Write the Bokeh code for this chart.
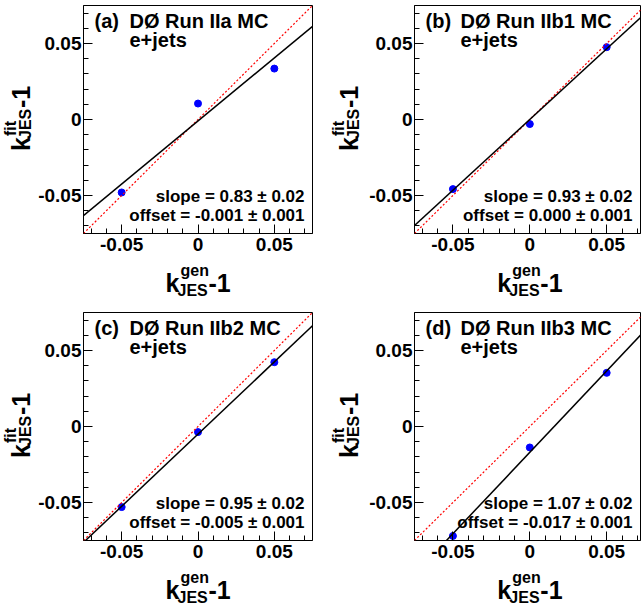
import math
from bokeh.plotting import figure
from bokeh.models import Label, Slope, FixedTicker, CustomJSTickFormatter, Range1d
from bokeh.layouts import column, row
from bokeh.embed import file_html
from bokeh.resources import INLINE

# ---------------- data ----------------
k_gen = [-0.05, 0.0, 0.05]
fit_a = [-0.0480, 0.0105, 0.0335]
fit_b = [-0.0458, -0.0030, 0.0476]
fit_c = [-0.0530, -0.0037, 0.0423]
fit_d = [-0.0720, -0.0138, 0.0353]
tags = ["(a)", "(b)", "(c)", "(d)"]
runs = ["DØ Run IIa MC", "DØ Run IIb1 MC", "DØ Run IIb2 MC", "DØ Run IIb3 MC"]
channel = "e+jets"
slopes = [0.83, 0.93, 0.95, 1.07]
slope_err = [0.02, 0.02, 0.02, 0.02]
offsets = [-0.001, 0.000, -0.005, -0.017]
offset_err = [0.001, 0.001, 0.001, 0.001]
major_ticks = [-0.05, 0.0, 0.05]
minor_ticks = [-0.07, -0.06, -0.04, -0.03, -0.02, -0.01,
               0.01, 0.02, 0.03, 0.04, 0.06, 0.07]
axis_lo, axis_hi = -0.075, 0.075
axis_hi_right = 0.072

FONT = "Liberation Sans"
BL, FH, BB = 46, 228, 27
SHIFT = 0.33   # empirical correction of the rendered baseline (in em)


def lab(p, text, x, y, xo, yo, size, align="left", angle=0.0):
    if angle == 0.0:
        yo = yo + SHIFT * size
    else:
        xo = xo - SHIFT * size
    p.add_layout(Label(x=x, y=y, x_offset=xo, y_offset=yo, text=text,
                       text_font=FONT, text_font_size=f"{size}px",
                       text_font_style="bold", text_align=align,
                       text_baseline="alphabetic", angle=angle,
                       text_color="black"))


def blank(width, height, x_range, y_range, l=0, r=0, t=0, b=0):
    f = figure(width=width, height=height, x_range=x_range, y_range=y_range,
               output_backend="svg", toolbar_location=None,
               x_axis_location=None, y_axis_location=None,
               min_border_left=l, min_border_right=r,
               min_border_top=t, min_border_bottom=b)
    f.grid.visible = False
    f.outline_line_color = None
    f.background_fill_color = "white"
    f.border_fill_color = "white"
    return f


def cell(i, fit, is_left, is_top):
    x_end = axis_hi if is_left else axis_hi_right
    yw = 35 if is_left else 42          # y-title strip width
    fw = 231 if is_left else 228        # frame width
    br = 12 if is_left else 1
    bt = 5 if is_top else 1
    xh = 51 if is_top else 40           # x-title strip height
    xr = Range1d(axis_lo, x_end)
    yr = Range1d(axis_lo, axis_hi)
    p = figure(width=BL + fw + br, height=bt + FH + BB, x_range=xr, y_range=yr,
               output_backend="svg", toolbar_location=None,
               min_border_left=BL, min_border_right=br,
               min_border_top=bt, min_border_bottom=BB)
    p.grid.visible = False
    p.outline_line_color = "black"
    p.outline_line_alpha = 1.0
    p.outline_line_width = 1
    p.background_fill_color = "white"
    p.border_fill_color = "white"
    fmt = CustomJSTickFormatter(code="return Math.abs(tick) < 1e-9 ? '0' : tick.toFixed(2);")
    for ax in (p.xaxis[0], p.yaxis[0]):
        ax.ticker = FixedTicker(ticks=major_ticks, minor_ticks=minor_ticks)
        ax.formatter = fmt
        ax.axis_line_color = "black"
        ax.major_tick_in = 9
        ax.major_tick_out = 0
        ax.minor_tick_in = 5
        ax.minor_tick_out = 0
        ax.major_tick_line_color = "black"
        ax.minor_tick_line_color = "black"
        ax.major_label_text_font = FONT
        ax.major_label_text_font_style = "bold"
        ax.major_label_text_font_size = "19px"
        ax.major_label_text_color = "black"
        ax.axis_label = None
    p.xaxis[0].major_label_standoff = 4
    p.yaxis[0].major_label_standoff = 2

    # reference y = x and fit line
    p.add_layout(Slope(gradient=1.0, y_intercept=0.0, line_color="red",
                       line_dash="2 2", line_width=1.2))
    p.add_layout(Slope(gradient=slopes[i], y_intercept=offsets[i],
                       line_color="black", line_width=1.5))
    p.scatter(k_gen, fit, size=7, fill_color="blue", line_color="blue")

    # in-frame texts
    lab(p, tags[i], axis_lo, axis_hi, 11, -22, 20)
    lab(p, runs[i], axis_lo, axis_hi, 46, -22, 20)
    lab(p, channel, axis_lo, axis_hi, 46, -41, 20)
    lab(p, f"slope = {slopes[i]:.2f} ± {slope_err[i]:.2f}", x_end, axis_lo, -8, 31, 17, "right")
    lab(p, f"offset = {offsets[i]:.3f} ± {offset_err[i]:.3f}", x_end, axis_lo, -8, 12, 17, "right")

    # y title strip: k^{fit}_{JES}-1 (rotated)
    ys = blank(yw, bt + FH + BB, Range1d(0, yw), yr, t=bt, b=BB)
    a = math.pi / 2
    kx = -6 if is_left else -9
    lab(ys, "k", yw, 0.0, kx, -31.5, 25, angle=a)
    lab(ys, "fit", yw, 0.0, kx - 14, -16.5, 16, angle=a)
    lab(ys, "JES", yw, 0.0, kx + 1, -19.5, 16, angle=a)
    lab(ys, "-1", yw, 0.0, kx, 11.5, 25, angle=a)

    # x title strip: k^{gen}_{JES}-1
    xs = blank(yw + BL + fw + br, xh, xr, Range1d(0, xh), l=yw + BL, r=br)
    ky = -31
    lab(xs, "k", 0.0, xh, -31.5, ky, 25)
    lab(xs, "gen", 0.0, xh, -16.5, ky + 16, 16)
    lab(xs, "JES", 0.0, xh, -19.5, ky - 4, 16)
    lab(xs, "-1", 0.0, xh, 11.5, ky, 25)

    return column(row(ys, p), xs)


c1 = cell(0, fit_a, True, True)
c2 = cell(1, fit_b, False, True)
c3 = cell(2, fit_c, True, False)
c4 = cell(3, fit_d, False, False)

layout = column(row(c1, c2), row(c3, c4))

with open("out.html", "w") as f:
    f.write(file_html(layout, INLINE))
